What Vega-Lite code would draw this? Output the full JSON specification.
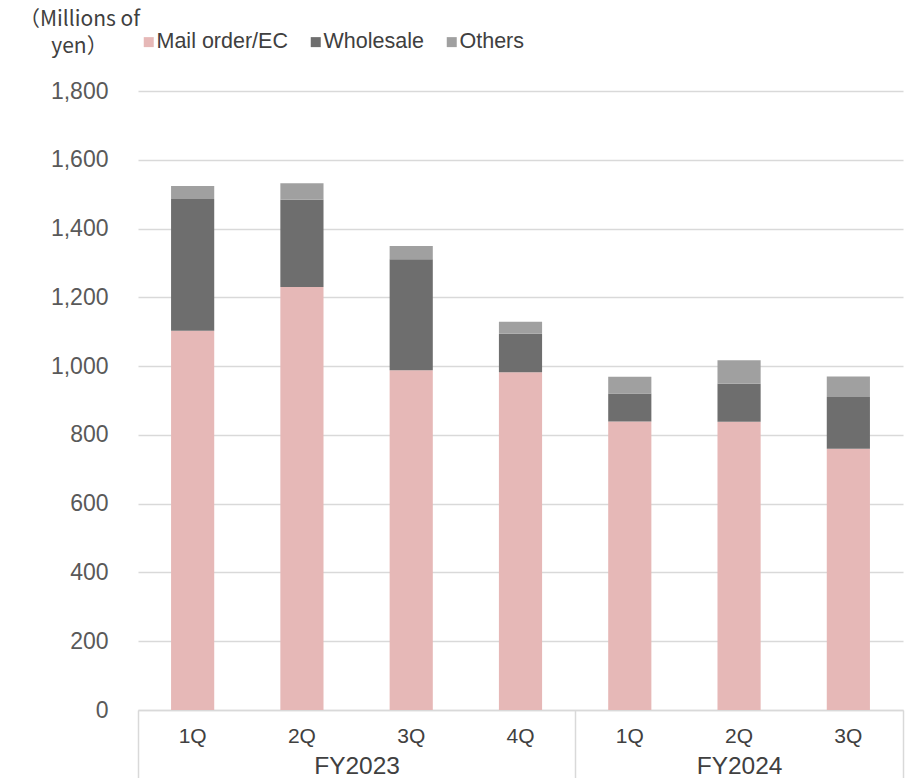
{
  "$schema": "https://vega.github.io/schema/vega-lite/v6.json",
  "autosize": "none",
  "width": 765,
  "height": 619,
  "padding": {"left": 138, "top": 91, "right": 6, "bottom": 68},
  "background": "#ffffff",
  "config": {
    "view": {"stroke": null},
    "font": "Liberation Sans",
    "axis": {"labelFont": "Liberation Sans", "labelColor": "#595959"}
  },
  "datasets": {
    "sales": [
      {"key": "FY2023|1Q", "segment": "Mail order/EC", "rank": 1, "value": 1103},
      {"key": "FY2023|1Q", "segment": "Wholesale", "rank": 2, "value": 383},
      {"key": "FY2023|1Q", "segment": "Others", "rank": 3, "value": 38},
      {"key": "FY2023|2Q", "segment": "Mail order/EC", "rank": 1, "value": 1230},
      {"key": "FY2023|2Q", "segment": "Wholesale", "rank": 2, "value": 254},
      {"key": "FY2023|2Q", "segment": "Others", "rank": 3, "value": 48},
      {"key": "FY2023|3Q", "segment": "Mail order/EC", "rank": 1, "value": 988},
      {"key": "FY2023|3Q", "segment": "Wholesale", "rank": 2, "value": 323},
      {"key": "FY2023|3Q", "segment": "Others", "rank": 3, "value": 38},
      {"key": "FY2023|4Q", "segment": "Mail order/EC", "rank": 1, "value": 982},
      {"key": "FY2023|4Q", "segment": "Wholesale", "rank": 2, "value": 112},
      {"key": "FY2023|4Q", "segment": "Others", "rank": 3, "value": 35},
      {"key": "FY2024|1Q", "segment": "Mail order/EC", "rank": 1, "value": 839},
      {"key": "FY2024|1Q", "segment": "Wholesale", "rank": 2, "value": 81},
      {"key": "FY2024|1Q", "segment": "Others", "rank": 3, "value": 49},
      {"key": "FY2024|2Q", "segment": "Mail order/EC", "rank": 1, "value": 838},
      {"key": "FY2024|2Q", "segment": "Wholesale", "rank": 2, "value": 111},
      {"key": "FY2024|2Q", "segment": "Others", "rank": 3, "value": 68},
      {"key": "FY2024|3Q", "segment": "Mail order/EC", "rank": 1, "value": 760},
      {"key": "FY2024|3Q", "segment": "Wholesale", "rank": 2, "value": 150},
      {"key": "FY2024|3Q", "segment": "Others", "rank": 3, "value": 60}
    ],
    "years": [
      {"fy": "FY2023", "start": 0, "end": 4, "mid": 2},
      {"fy": "FY2024", "start": 4, "end": 7, "mid": 5.5}
    ]
  },
  "layer": [
    {
      "data": {"name": "sales"},
      "mark": {"type": "bar"},
      "encoding": {
        "x": {
          "field": "key",
          "type": "nominal",
          "sort": null,
          "scale": {"paddingInner": 0.605, "paddingOuter": 0.3025},
          "axis": {
            "orient": "bottom",
            "title": null,
            "labelAngle": 0,
            "labelExpr": "split(datum.value, '|')[1]",
            "labelFontSize": 21,
            "labelColor": "#404040",
            "labelPadding": 15,
            "ticks": false,
            "domainColor": "#d9d9d9",
            "domainWidth": 1.5
          }
        },
        "y": {
          "field": "value",
          "type": "quantitative",
          "stack": "zero",
          "scale": {"domain": [0, 1800], "nice": false},
          "axis": {
            "values": [0, 200, 400, 600, 800, 1000, 1200, 1400, 1600, 1800],
            "format": ",d",
            "labelFontSize": 23,
            "labelColor": "#595959",
            "labelPadding": 30,
            "ticks": false,
            "domain": false,
            "gridColor": "#d9d9d9",
            "gridWidth": 1.5,
            "title": ["（Millions of", "yen）"],
            "titleFont": "Noto Sans CJK JP",
            "titleFontSize": 21,
            "titleFontWeight": "normal",
            "titleColor": "#404040",
            "titleAngle": 0,
            "titleAlign": "center",
            "titleBaseline": "top",
            "titleLineHeight": 27,
            "titleX": -59,
            "titleY": -83
          }
        },
        "color": {
          "field": "segment",
          "type": "nominal",
          "sort": ["Mail order/EC", "Wholesale", "Others"],
          "scale": {
            "domain": ["Mail order/EC", "Wholesale", "Others"],
            "range": ["#e6b8b7", "#6e6e6e", "#a0a0a0"]
          },
          "legend": {
            "title": null,
            "orient": "none",
            "direction": "horizontal",
            "legendX": 0,
            "legendY": -60,
            "symbolType": "square",
            "symbolSize": 100,
            "symbolStrokeWidth": 0,
            "labelFontSize": 21.5,
            "labelColor": "#404040",
            "labelOffset": -3,
            "columnPadding": 17
          }
        },
        "order": {"field": "rank", "type": "quantitative"}
      }
    },
    {
      "data": {"name": "years"},
      "mark": {"type": "rule", "opacity": 0},
      "encoding": {
        "x": {
          "field": "end",
          "type": "quantitative",
          "scale": {"domain": [0, 7], "nice": false, "zero": true},
          "axis": {
            "orient": "bottom",
            "title": null,
            "values": [0, 4, 7],
            "labels": false,
            "domain": false,
            "grid": false,
            "ticks": true,
            "tickSize": 70,
            "tickColor": "#d9d9d9",
            "tickWidth": 1.5
          }
        }
      }
    },
    {
      "data": {"name": "years"},
      "mark": {"type": "rule", "opacity": 0},
      "encoding": {
        "x": {
          "field": "mid",
          "type": "quantitative",
          "scale": {"domain": [0, 7], "nice": false, "zero": true},
          "axis": {
            "orient": "bottom",
            "title": null,
            "values": [2, 5.5],
            "labelExpr": "datum.value < 4 ? 'FY2023' : 'FY2024'",
            "labelFontSize": 24.5,
            "labelColor": "#404040",
            "labelPadding": 44,
            "domain": false,
            "grid": false,
            "ticks": false
          }
        }
      }
    }
  ],
  "resolve": {"scale": {"x": "independent"}, "axis": {"x": "independent"}}
}
